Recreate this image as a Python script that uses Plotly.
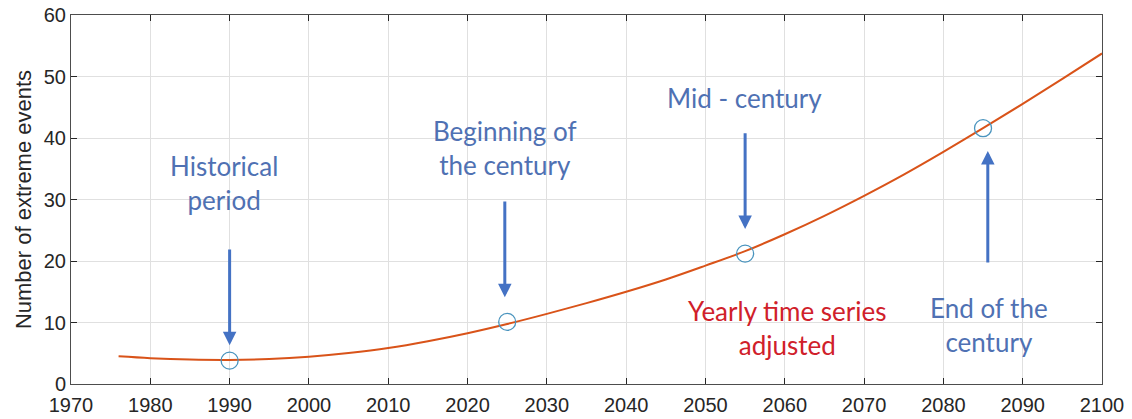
import plotly.graph_objects as go

# Fitted yearly curve
years = [1976, 1980, 1985, 1990, 1995, 2000, 2005, 2010, 2015, 2020, 2025, 2030, 2035,
         2040, 2045, 2050, 2055, 2060, 2065, 2070, 2075, 2080, 2085, 2090, 2095, 2100]
events = [4.5, 4.2, 3.98, 3.92, 4.08, 4.45, 5.05, 5.85, 6.95, 8.25, 9.75, 11.4, 13.15,
          15.0, 17.0, 19.25, 21.6, 24.35, 27.35, 30.6, 34.05, 37.75, 41.6, 45.55, 49.6, 53.75]

# Period markers
period_years = [1990, 2025, 2055, 2085]
period_values = [3.8, 10.1, 21.2, 41.6]

# Labels
period_labels = ["Historical<br>period", "Beginning of<br>the century", "Mid - century",
                 "End of the<br>century"]
label_pos = [(1989.3, 32.7), (2024.7, 38.4), (2054.9, 46.5), (2085.8, 9.6)]
arrow_tips = [(1990, 6.3), (2024.7, 14.1), (2055, 25.2), (2085.6, 37.9)]
arrow_tails = [(1990, 22.1), (2024.7, 29.9), (2055, 41.0), (2085.6, 19.5)]

x_ticks = list(range(1970, 2101, 10))
y_ticks = list(range(0, 61, 10))

BLUE = "#4472C4"
TEXT_BLUE = "#4F71B3"
RED = "#D0202A"
AX = "#262626"

fig = go.Figure()
fig.add_trace(go.Scatter(x=years, y=events, mode="lines", line=dict(color="#D95319", width=2, shape="spline"),
                         showlegend=False, hoverinfo="skip"))
fig.add_trace(go.Scatter(x=period_years, y=period_values, mode="markers",
                         marker=dict(symbol="circle-open", size=17, color="#4A94BE", line=dict(width=1.3)),
                         showlegend=False))

anns = []
for (lx, ly), txt in zip(label_pos, period_labels):
    anns.append(dict(x=lx, y=ly, xref="x", yref="y", text=txt, showarrow=False,
                     font=dict(family="Lato", size=26, color=TEXT_BLUE), align="center",
                     xanchor="center", yanchor="middle"))
anns.append(dict(x=2060.4, y=9.1, xref="x", yref="y", text="Yearly time series<br>adjusted", showarrow=False,
                 font=dict(family="Lato", size=26, color=RED), align="center",
                 xanchor="center", yanchor="middle"))
for (tx, ty), (sx, sy) in zip(arrow_tips, arrow_tails):
    anns.append(dict(x=tx, y=ty, ax=sx, ay=sy, xref="x", yref="y", axref="x", ayref="y",
                     text="", showarrow=True, arrowhead=2, arrowsize=0.9, arrowwidth=3,
                     arrowcolor=BLUE, standoff=0, startstandoff=0))

fig.update_layout(
    width=1132, height=419,
    margin=dict(l=71, r=30, t=15, b=35, autoexpand=False),
    paper_bgcolor="white", plot_bgcolor="white",
    font=dict(family="Liberation Sans", size=20, color=AX),
    annotations=anns,
)
fig.update_xaxes(range=[1970, 2100], tickvals=x_ticks, ticks="inside", ticklen=6, tickcolor=AX,
                 showline=True, linecolor="#4d4d4d", linewidth=1, mirror="ticks",
                 showgrid=True, gridcolor="#E0E0E0", gridwidth=1, zeroline=False,
                 tickfont=dict(size=20, color=AX), ticklabeloverflow="allow", ticklabelstandoff=3)
fig.update_yaxes(range=[0, 60], tickvals=y_ticks, ticks="inside", ticklen=6, tickcolor=AX,
                 showline=True, linecolor="#4d4d4d", linewidth=1, mirror="ticks",
                 showgrid=True, gridcolor="#E0E0E0", gridwidth=1, zeroline=False,
                 tickfont=dict(size=20, color=AX), ticklabeloverflow="allow",
                 title=dict(text="Number of extreme events", font=dict(size=22, color=AX), standoff=6))

fig.write_html("out.html", config={"displayModeBar": False},
               post_script="document.body.style.margin='0';")
